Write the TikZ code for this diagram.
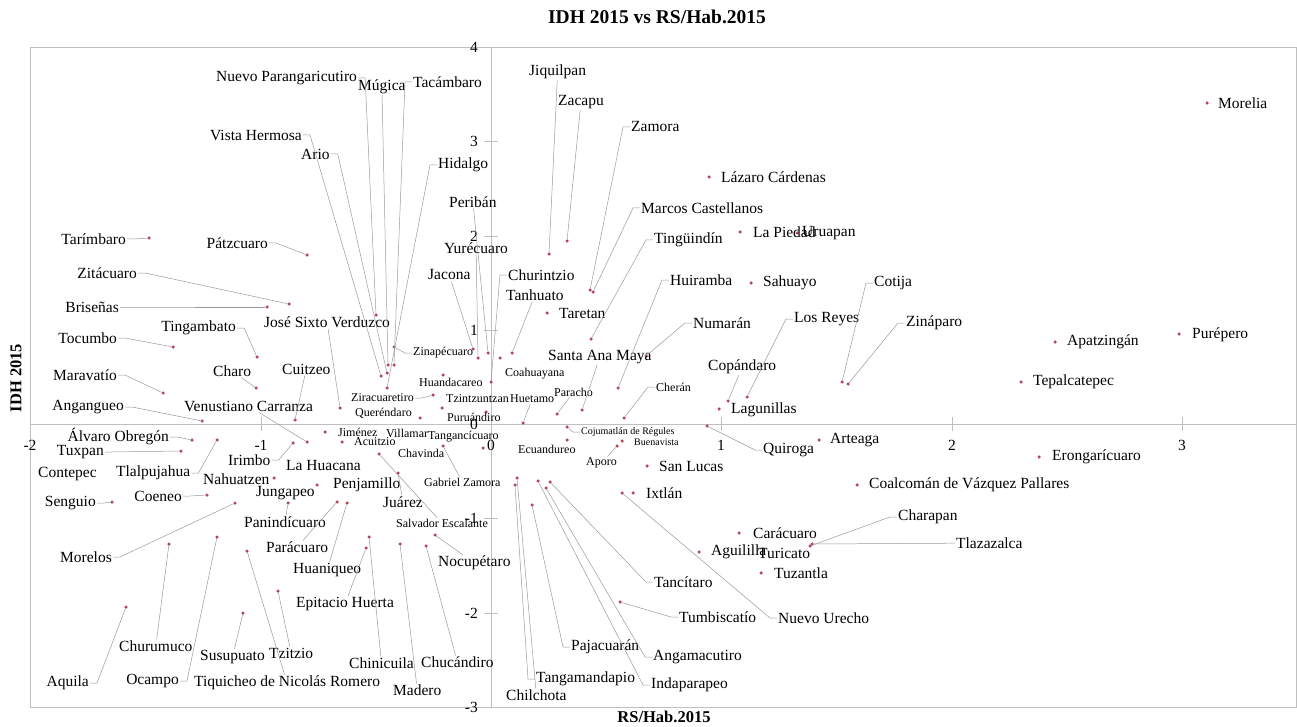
\documentclass[tikz,border=0pt]{standalone}
\usepackage{fontspec}
\setmainfont{Liberation Serif}
\definecolor{dotred}{RGB}{176,72,88}
\tikzset{
  dot/.style={circle,fill=dotred,inner sep=0pt,minimum size=3.5pt},
  lab/.style={inner sep=1pt,font=\fontsize{15.5}{16}\selectfont},
  slab/.style={inner sep=1pt,font=\fontsize{12}{13}\selectfont},
  tlab/.style={inner sep=1pt,font=\fontsize{10}{11}\selectfont},
  leader/.style={draw=black!40,line width=0.5pt},
  frame/.style={draw=black!25,line width=0.8pt}
}
\begin{document}
\begin{tikzpicture}[x=1pt,y=-1pt]
    \useasboundingbox (0,0) rectangle (1297,727);
    % frame and axes
    \draw[frame] (30,47) rectangle (1296,707);
    \draw[frame] (30,424) -- (1296,424);
    \draw[frame] (491,47) -- (491,707);
    \foreach \v/\py [count=\i] in {4/47,3/141,2/236,1/330,0/424,-1/518,-2/613,-3/707}{
      \draw[frame] (484,\py) -- (498,\py);
      \node[lab,anchor=east] (ytick\i) at (479,\py) {\v};}
    \foreach \v/\px [count=\i] in {-2/30,-1/261,0/491,1/721,2/952,3/1182}{
      \draw[frame] (\px,417) -- (\px,431);
      \node[lab] (xtick\i) at (\px,445) {\v};}
    \node[lab,font=\bfseries\fontsize{19.5}{20}\selectfont] (title) at (657,17) {IDH 2015 vs RS/Hab.2015};
    \node[lab,font=\bfseries\fontsize{16.5}{17}\selectfont] (xlabel) at (664,717) {RS/Hab.2015};
    \node[lab,font=\bfseries\fontsize{16.5}{17}\selectfont,rotate=90] (ylabel) at (16,378) {IDH 2015};
    % points
    \foreach \n/\x/\y in {morelia/1207/103,lazaro/709/177,lapiedad/740/232,uruapan/797/233,sahuayo/751/283,
      taretan/547/313,lagunillas/719/409,arteaga/819/440,sanlucas/647/466,ixtlan/633/493,coalcoman/857/485,
      caracuaro/739/533,aguililla/699/552,tuzantla/761/573,tepalca/1021/382,apatzingan/1055/342,
      purepero/1179/334,erongaricuaro/1039/457,tarimbaro/149/238,patzcuaro/307/255,zitacuaro/289/304,
      brisenas/267/307,tocumbo/173/347,tingambato/257/357,charo/256/388,cuitzeo/295/420,maravatio/163/393,
      angangueo/202/421,venustiano/307/442,alvaro/192/440,tuxpan/181/451,irimbo/293/443,tlalpujahua/217/440,
      nahuatzen/274/478,coeneo/207/495,senguio/112/502,morelos/235/503,panindicuaro/288/503,penjamillo/317/485,
      paracuaro/337/502,huaniqueo/347/503,epitacio/366/548,chinicuila/369/537,madero/400/544,chucandiro/426/546,
      nocupetaro/435/535,salvador/379/454,juarez/398/473,aquila/126/607,churumuco/169/544,ocampo/217/537,
      susupuato/243/613,tzitzio/278/591,tiquicheo/247/551,jose/340/408,jimenez/325/432,acuitzio/342/442,
      ziracuaretiro/433/395,huandacareo/443/375,tzintzuntzan/442/408,querendaro/420/418,puruandiro/486/412,
      tangancicuaro/483/448,gabriel/443/446,coahuayana/500/358,jacona/473/349,yurecuaro/478/358,periban/488/353,
      churintzio/491/382,tanhuato/512/353,huetamo/523/423,paracho/557/414,santaana/582/410,cojumatlan/567/427,
      ecuandureo/567/440,buenavista/622/441,aporo/617/446,jiquilpan/549/254,zacapu/567/241,zamora/590/290,
      marcos/593/292,tinguindin/591/339,huiramba/618/388,numaran/646/356,cheran/624/418,nuevopar/376/315,
      mugica/388/365,tacambaro/394/365,vista/381/376,ario/387/373,hidalgo/387/388,zinapecuaro/394/347,
      chilchota/517/478,tangamandapio/515/485,pajacuaran/532/505,indaparapeo/538/481,tancitaro/550/482,
      angamacutiro/546/488,nuevourecho/622/493,tumbiscatio/620/602,quiroga/707/426,copandaro/728/401,
      losreyes/747/397,cotija/842/382,zinaparo/848/384,charapan/810/546,tlazazalca/812/544}
      \node[dot] (\n) at (\x,\y) {};
    % labels
    \foreach \n/\x/\y/\t in {morelia/1217/103/Morelia,lazaro/720/177/Lázaro Cárdenas,lapiedad/752/232/La Piedad,
      uruapan/801/233/Uruapan,sahuayo/762/283/Sahuayo,taretan/558/313/Taretan,lagunillas/730/410/Lagunillas,
      arteaga/829/440/Arteaga,sanlucas/658/466/San Lucas,ixtlan/645/493/Ixtlán,
      coalcoman/868/485/Coalcomán de Vázquez Pallares,caracuaro/752/533/Carácuaro,aguililla/710/552/Aguililla,
      turicato/757/553/Turicato,tuzantla/773/573/Tuzantla,tepalca/1032/382/Tepalcatepec,
      apatzingan/1066/342/Apatzingán,purepero/1191/335/Purépero,erongaricuaro/1051/457/Erongarícuaro,
      tacambaro/412/82/Tacámbaro,hidalgo/437/165/Hidalgo,zamora/630/127/Zamora,marcos/640/208/Marcos Castellanos,
      tinguindin/653/240/Tingüindín,huiramba/669/280/Huiramba,numaran/692/323/Numarán,losreyes/793/319/Los Reyes,
      cotija/873/283/Cotija,zinaparo/905/323/Zináparo,quiroga/762/450/Quiroga,charapan/897/517/Charapan,
      tlazazalca/955/543/Tlazazalca,churintzio/507/275/Churintzio,tanhuato/505/295/Tanhuato,
      santaana/547/357/Santa Ana Maya,jose/263/322/José Sixto Verduzco,cuitzeo/281/369/Cuitzeo,charo/212/371/Charo,
      venustiano/183/406/Venustiano Carranza,irimbo/227/460/Irimbo,lahuacana/285/465/La Huacana,
      tlalpujahua/115/473/Tlalpujahua,contepec/37/474/Contepec,nahuatzen/202/479/Nahuatzen,
      jungapeo/255/493/Jungapeo,panindicuaro/243/522/Panindícuaro,penjamillo/332/485/Penjamillo,
      paracuaro/265/547/Parácuaro,huaniqueo/292/570/Huaniqueo,epitacio/295/604/Epitacio Huerta,
      juarez/382/502/Juárez,nocupetaro/437/563/Nocupétaro,chinicuila/348/663/Chinicuila,
      chucandiro/420/662/Chucándiro,madero/392/690/Madero,tiquicheo/193/683/Tiquicheo de Nicolás Romero,
      churumuco/118/646/Churumuco,susupuato/199/657/Susupuato,tzitzio/268/653/Tzitzio,chilchota/505/695/Chilchota,
      tangamandapio/535/679/Tangamandapio,pajacuaran/570/647/Pajacuarán,angamacutiro/652/657/Angamacutiro,
      indaparapeo/650/685/Indaparapeo,tancitaro/653/582/Tancítaro,tumbiscatio/678/617/Tumbiscatío,
      nuevourecho/777/618/Nuevo Urecho,copandaro/707/367/Copándaro,mugica/357/87/Múgica,periban/448/202/Peribán,
      jiquilpan/528/72/Jiquilpan,zacapu/557/102/Zacapu,jacona/427/275/Jacona,yurecuaro/443/248/Yurécuaro,
      nuevopar/215/78/Nuevo Parangaricutiro,vista/209/135/Vista Hermosa,ario/300/154/Ario}
      \node[lab,anchor=west] (l\n) at (\x,\y) {\t};
    \foreach \n/\x/\y/\t in {tarimbaro/127/239/Tarímbaro,patzcuaro/269/243/Pátzcuaro,zitacuaro/138/273/Zitácuaro,
      brisenas/120/307/Briseñas,tocumbo/118/338/Tocumbo,tingambato/237/328/Tingambato,maravatio/118/375/Maravatío,
      angangueo/125/407/Angangueo,alvaro/170/437/Álvaro Obregón,tuxpan/105/452/Tuxpan,senguio/97/503/Senguio,
      coeneo/183/496/Coeneo,morelos/113/557/Morelos,aquila/90/683/Aquila,ocampo/180/681/Ocampo}
      \node[lab,anchor=east] (l\n) at (\x,\y) {\t};
    \foreach \n/\x/\y/\t in {zinapecuaro/412/353/Zinapécuaro,coahuayana/504/374/Coahuayana,
      huandacareo/418/382/Huandacareo,tzintzuntzan/445/399/Tzintzuntzan,huetamo/509/399/Huetamo,
      paracho/553/392/Paracho,puruandiro/446/417/Puruándiro,jimenez/337/432/Jiménez,villamar/385/433/Villamar,
      acuitzio/353/442/Acuitzio,tangancicuaro/427/437/Tangancícuaro,chavinda/397/453/Chavinda,
      gabriel/423/482/Gabriel Zamora,ecuandureo/517/449/Ecuandureo,aporo/585/463/Aporo,
      salvador/395/523/Salvador Escalante,cheran/655/387/Cherán}
      \node[slab,anchor=west] (l\n) at (\x,\y) {\t};
    \foreach \n/\x/\y/\t in {ziracuaretiro/415/398/Ziracuaretiro,querendaro/413/413/Queréndaro}
      \node[slab,anchor=east] (l\n) at (\x,\y) {\t};
    \foreach \n/\x/\y/\t in {cojumatlan/580/432/Cojumatlán de Régules,buenavista/633/442/Buenavista}
      \node[tlab,anchor=west] (l\n) at (\x,\y) {\t};
    % leaders
    \foreach \n in {tacambaro,hidalgo,zamora,marcos,tinguindin,huiramba,numaran,cheran,losreyes,cotija,zinaparo,
      quiroga,charapan,churintzio,zinapecuaro,cojumatlan,tangamandapio,pajacuaran,angamacutiro,indaparapeo,
      tancitaro,tumbiscatio,nuevourecho}
      \draw[leader] (l\n.west) -- ++(-7,0) -- (\n);
    \foreach \n in {nuevopar,vista,ario,tarimbaro,patzcuaro,zitacuaro,brisenas,tocumbo,tingambato,maravatio,
      angangueo,alvaro,tuxpan,senguio,coeneo,morelos,aquila,ocampo,ziracuaretiro,irimbo,tlalpujahua}
      \draw[leader] (l\n.east) -- ++(7,0) -- (\n);
    \foreach \n in {tlazazalca,jiquilpan,zacapu,periban,jacona,yurecuaro,tanhuato,mugica,copandaro,jose,cuitzeo,
      charo,venustiano,panindicuaro,paracuaro,huaniqueo,epitacio,juarez,salvador,nocupetaro,chinicuila,
      chucandiro,madero,tiquicheo,churumuco,susupuato,tzitzio,gabriel,huetamo,paracho,aporo,chilchota,santaana}
      \draw[leader] (l\n) -- (\n);
\end{tikzpicture}
\end{document}
